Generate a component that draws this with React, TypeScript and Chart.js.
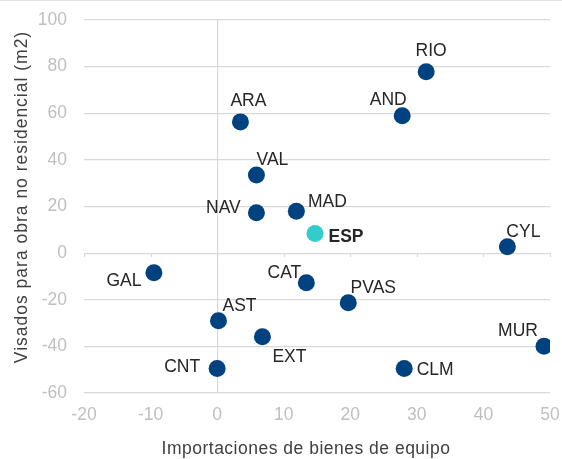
import React, { useEffect, useRef } from "react";
import { Chart, registerables } from "chart.js";

Chart.register(...registerables);

const regions = ["ARA", "VAL", "NAV", "MAD", "RIO", "AND", "ESP", "CYL", "CAT", "PVAS", "MUR", "CLM", "GAL", "AST", "EXT", "CNT"];
const importaciones = [3.5, 5.9, 5.9, 11.9, 31.4, 27.8, 14.7, 43.6, 13.4, 19.7, 49.1, 28.1, -9.5, 0.2, 6.8, 0];
const visados = [56.3, 33.5, 17.3, 18.0, 77.8, 58.9, 8.4, 2.7, -12.7, -21.3, -39.9, -49.5, -8.4, -29.0, -35.9, -49.5];
const highlight = "ESP";
const xTicks = [-20, -10, 0, 10, 20, 30, 40, 50];
const yTicks = [-60, -40, -20, 0, 20, 40, 60, 80, 100];
const xTitle = "Importaciones de bienes de equipo";
const yTitle = "Visados para obra no residencial (m2)";

// label offsets (px) relative to each point, style only
const labelOffsets: Record<string, [number, number]> = {
  ARA: [8, -21], VAL: [16, -15], NAV: [-33, -5], MAD: [31, -9], RIO: [5, -21], AND: [-14, -16],
  ESP: [31, 4], CYL: [16, -15], CAT: [-22, -10], PVAS: [25, -15], MUR: [-26, -15], CLM: [31, 2],
  GAL: [-30, 8], AST: [21, -15], EXT: [27, 20], CNT: [-35, -1],
};

const FONT = "'Liberation Sans', Arial, sans-serif";
const FS = 17.5;
const DARK = "#00427F";
const TURQ = "#33CCCC";
const GRID = "#D9D9D9";
const TITLE_COLOR = "#404040";

const extrasPlugin = {
  id: "extras",
  afterDraw(chart: any) {
    const ctx = chart.ctx;
    const xs = chart.scales.x;
    const ys = chart.scales.y;
    ctx.save();
    // top border
    ctx.strokeStyle = "#E3E3E3";
    ctx.lineWidth = 1;
    ctx.beginPath();
    ctx.moveTo(0, 0.5);
    ctx.lineTo(chart.width, 0.5);
    ctx.stroke();
    // tick marks on the x axis crossing at y = 0
    const y0 = ys.getPixelForValue(0);
    ctx.strokeStyle = GRID;
    ctx.lineWidth = 1.2;
    for (const v of xTicks) {
      const px = Math.round(xs.getPixelForValue(v)) + 0.5;
      ctx.beginPath();
      ctx.moveTo(px, y0);
      ctx.lineTo(px, y0 + 4);
      ctx.stroke();
    }
    // point labels
    const meta = chart.getDatasetMeta(0);
    ctx.textAlign = "center";
    ctx.textBaseline = "middle";
    ctx.fillStyle = "#262626";
    meta.data.forEach((el: any, i: number) => {
      const name = regions[i];
      const off = labelOffsets[name] || [0, -18];
      ctx.font = (name === highlight ? "bold " : "") + FS + "px " + FONT;
      ctx.fillText(name, el.x + off[0], el.y + off[1]);
    });
    // axis titles
    ctx.fillStyle = TITLE_COLOR;
    ctx.font = FS + "px " + FONT;
    (ctx as any).letterSpacing = "0.5px";
    ctx.fillText(xTitle, 306, 449);
    ctx.save();
    (ctx as any).letterSpacing = "1px";
    ctx.translate(22, 197);
    ctx.rotate(-Math.PI / 2);
    ctx.fillText(yTitle, 0, 0);
    ctx.restore();
    (ctx as any).letterSpacing = "0px";
    ctx.restore();
  },
};

export default function App() {
  const ref = useRef<HTMLCanvasElement | null>(null);
  useEffect(() => {
    if (!ref.current) return;
    const chart = new Chart(ref.current, {
      type: "scatter",
      data: {
        datasets: [
          {
            data: importaciones.map((x, i) => ({ x, y: visados[i] })),
            pointRadius: 8.5,
            pointHoverRadius: 8.5,
            pointBorderWidth: 0,
            pointBackgroundColor: regions.map((r) => (r === highlight ? TURQ : DARK)),
            pointBorderColor: regions.map((r) => (r === highlight ? TURQ : DARK)),
          },
        ],
      },
      options: {
        responsive: false,
        animation: false,
        layout: { padding: { top: 20, right: 12, left: 0, bottom: 0 } },
        plugins: { legend: { display: false }, tooltip: { enabled: false } },
        scales: {
          x: {
            type: "linear",
            min: -20,
            max: 50,
            afterBuildTicks: (s: any) => { s.ticks = xTicks.map((v) => ({ value: v })); },
            afterFit: (s: any) => { s.height = 66; s.paddingLeft = 0; s.paddingRight = 0; },
            border: { display: false },
            grid: {
              drawTicks: false,
              tickLength: 0,
              lineWidth: 1.2,
              color: (c: any) => (c.tick && c.tick.value === 0 ? GRID : "rgba(0,0,0,0)"),
            },
            ticks: { color: "#BFBFBF", font: { family: FONT, size: FS }, padding: 12, maxRotation: 0 },
            title: { display: false },
          },
          y: {
            type: "linear",
            min: -60,
            max: 100,
            afterBuildTicks: (s: any) => { s.ticks = yTicks.map((v) => ({ value: v })); },
            afterFit: (s: any) => { s.width = 84; s.paddingTop = 0; s.paddingBottom = 0; },
            border: { display: false },
            grid: { drawTicks: false, tickLength: 0, lineWidth: 1.2, color: GRID },
            ticks: { color: "#BFBFBF", font: { family: FONT, size: FS }, padding: 17 },
            title: { display: false },
          },
        },
      },
      plugins: [extrasPlugin],
    });
    return () => chart.destroy();
  }, []);
  return (
    <div style={{ position: "absolute", left: 0, top: 0, width: 562, height: 459, background: "#fff" }}>
      <canvas ref={ref} width={562} height={459} style={{ display: "block" }} />
    </div>
  );
}
